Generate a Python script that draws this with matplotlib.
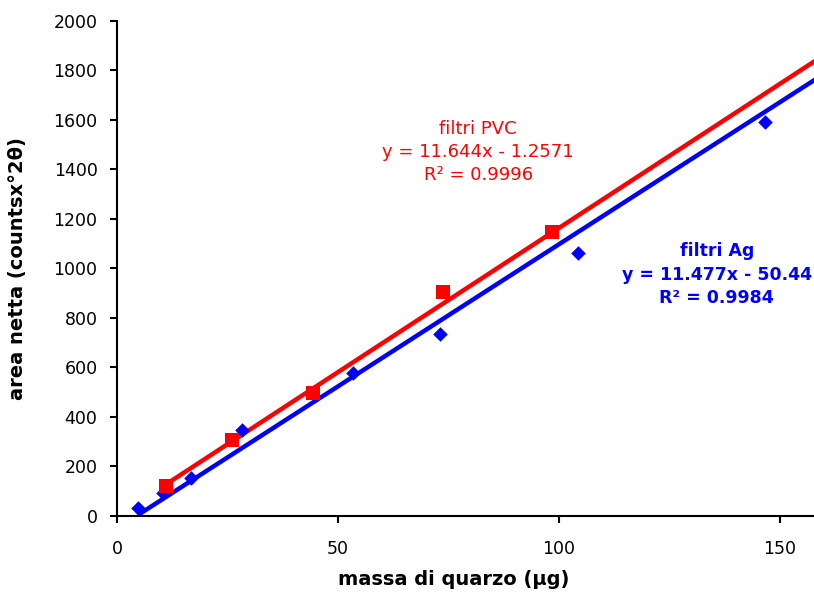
import matplotlib.pyplot as plt
import numpy as np

# filtri PVC (red squares)
pvc_x = [11.1, 26.0, 44.3, 73.8, 98.4]
pvc_y = [121, 307, 497, 904, 1147]

# filtri Ag (blue diamonds)
ag_x = [4.75, 10.4, 16.7, 28.3, 53.4, 73.1, 104.3, 146.6]
ag_y = [32, 93, 153, 349, 578, 735, 1060, 1590]

# trendline coefficients as printed on the chart
pvc_fit = (11.644, -1.2571)
ag_fit = (11.477, -50.44)

x_ticks = [0, 50, 100, 150]
y_ticks = list(range(0, 2001, 200))

RED = "#ff0000"
BLUE = "#0000ff"

fig = plt.figure(figsize=(8.14, 5.97), dpi=100)
ax = fig.add_axes([0.1437, 0.1357, 0.8563, 0.8296])

# trendlines, from first data point to beyond the right edge
xr = np.array([min(pvc_x), 170])
ax.plot(xr, pvc_fit[0] * xr + pvc_fit[1], color=RED, lw=3.2, solid_capstyle="butt", zorder=2)
xb = np.array([min(ag_x), 170])
ax.plot(xb, ag_fit[0] * xb + ag_fit[1], color=BLUE, lw=3.2, solid_capstyle="butt", zorder=2)

ax.scatter(ag_x, ag_y, marker="D", s=55, color=BLUE, zorder=3, linewidths=0)
ax.scatter(pvc_x, pvc_y, marker="s", s=110, color=RED, zorder=4, linewidths=0)

ax.set_xlim(0, 157.7)
ax.set_ylim(0, 2000)
ax.set_xticks(x_ticks)
ax.set_yticks(y_ticks)
ax.spines["top"].set_visible(False)
ax.spines["right"].set_visible(False)
ax.spines["left"].set_linewidth(1.5)
ax.spines["bottom"].set_linewidth(1.5)
ax.tick_params(axis="both", direction="out", length=5, width=1.5, labelsize=12.5)
ax.tick_params(axis="y", pad=9)
ax.tick_params(axis="x", pad=12)

ax.set_xlabel("massa di quarzo (µg)", fontsize=14, fontweight="bold", va="center")
ax.set_ylabel("area netta (countsx°2θ)", fontsize=14, fontweight="bold", va="center")
ax.xaxis.set_label_coords(0.483, -0.129)
ax.yaxis.set_label_coords(-0.142, 0.5)

ax.text(81.7, 1469, "filtri PVC\ny = 11.644x - 1.2571\nR² = 0.9996",
        color=RED, fontsize=13, ha="center", va="center", linespacing=1.35)
ax.text(135.7, 975, "filtri Ag\ny = 11.477x - 50.44\nR² = 0.9984",
        color=BLUE, fontsize=12.5, fontweight="bold", ha="center", va="center", linespacing=1.4)

fig.savefig("out.png", dpi=100)
